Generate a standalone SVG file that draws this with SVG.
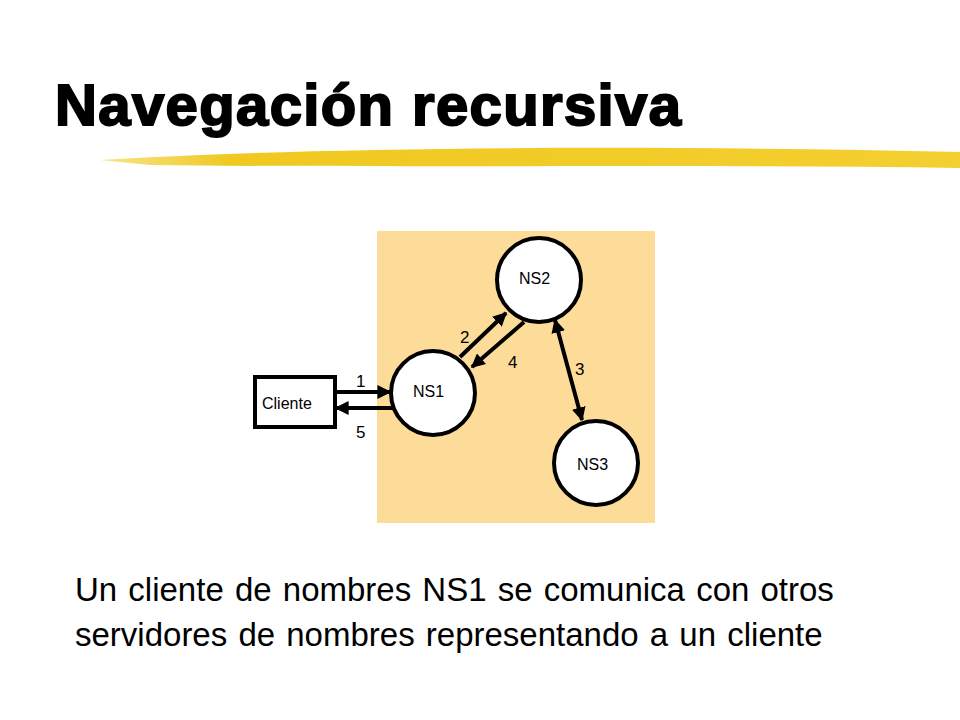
<svg xmlns="http://www.w3.org/2000/svg" width="960" height="720" viewBox="0 0 960 720">
<style>
.t{font-family:"Liberation Sans",Arial,sans-serif;fill:#000}
.n{fill:#fff;stroke:#000;stroke-width:4}
.c{stroke:#000;stroke-width:4;fill:none}
</style>
<defs>
<marker id="a" viewBox="0 0 10 10" refX="9" refY="5" markerWidth="3.5" markerHeight="3.5" orient="auto-start-reverse"><path d="M0,0L10,5L0,10z"/></marker>
<linearGradient id="g" x1="0" x2="1"><stop offset="0" stop-color="#f2d23a" stop-opacity="0.6"/><stop offset="0.15" stop-color="#f0c820"/><stop offset="1" stop-color="#f3cf30"/></linearGradient>
</defs>
<rect width="960" height="720" fill="#fff"/>
<text class="t" x="55" y="125" font-size="58" font-weight="900" stroke="#000" stroke-width="2" textLength="626">Navegación recursiva</text>
<path d="M100,160 C300,148 600,144 960,152 L960,168 C700,164 400,168 150,165 Z" fill="url(#g)"/>
<rect x="377" y="231" width="278" height="292" fill="#fddc9a"/>
<g id="connectors">
<line class="c" x1="336" y1="392" x2="390" y2="392" marker-end="url(#a)"/>
<line class="c" x1="392" y1="408" x2="336" y2="408" marker-end="url(#a)"/>
<line class="c" x1="460" y1="357" x2="506" y2="313" marker-end="url(#a)"/>
<line class="c" x1="524" y1="322" x2="472" y2="367" marker-end="url(#a)"/>
<line class="c" x1="555" y1="320" x2="582" y2="420" marker-start="url(#a)" marker-end="url(#a)"/>
<g class="t" font-size="17"><text x="356" y="387">1</text><text x="356" y="438">5</text><text x="460" y="343">2</text><text x="508" y="368">4</text><text x="575" y="375">3</text></g>
</g>
<g id="cliente"><rect x="255" y="377" width="80" height="50" fill="#fff" stroke="#000" stroke-width="4"/><text class="t" x="262" y="409" font-size="16">Cliente</text></g>
<g id="ns1"><circle class="n" cx="433" cy="393" r="42"/><text class="t" x="413" y="397" font-size="16">NS1</text></g>
<g id="ns2"><circle class="n" cx="539" cy="280" r="42"/><text class="t" x="519" y="284" font-size="16">NS2</text></g>
<g id="ns3"><circle class="n" cx="596" cy="463" r="42"/><text class="t" x="577" y="470" font-size="16">NS3</text></g>
<g class="t" font-size="33" word-spacing="2">
<text x="75" y="601">Un cliente de nombres NS1 se comunica con otros</text>
<text x="75" y="646">servidores de nombres representando a un cliente</text>
</g>
</svg>
